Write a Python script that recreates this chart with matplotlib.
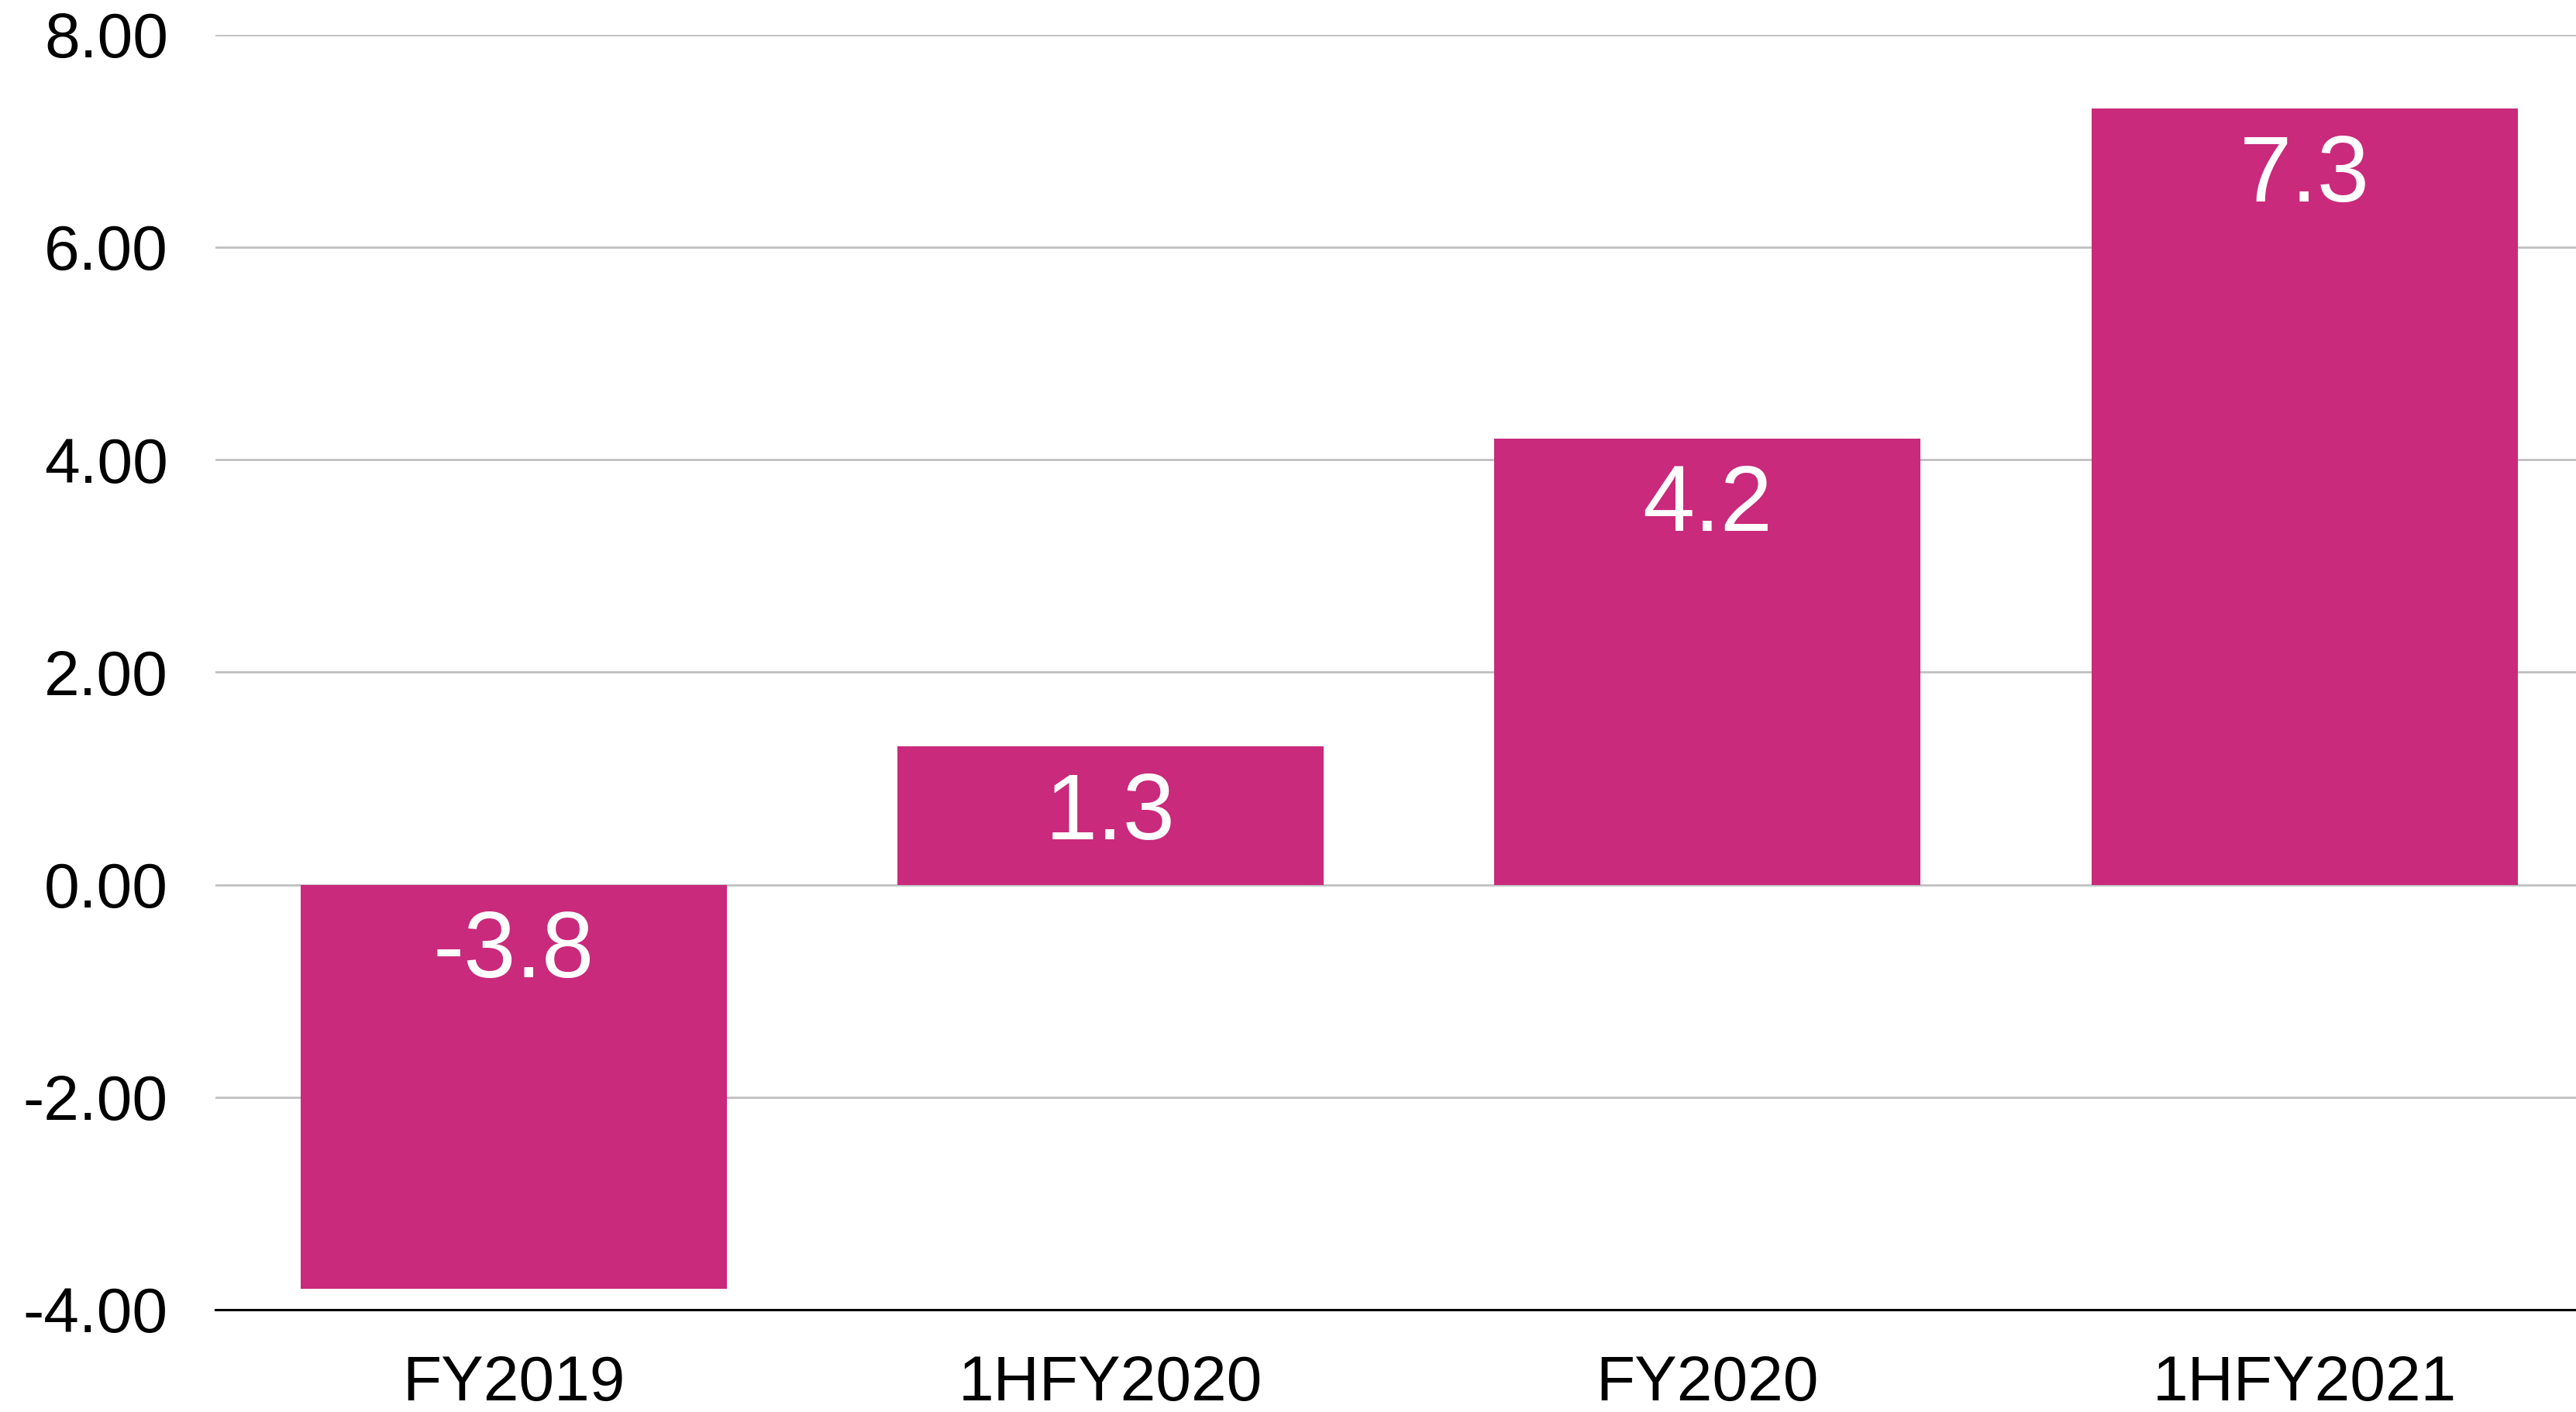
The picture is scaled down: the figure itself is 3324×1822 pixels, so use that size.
import matplotlib
matplotlib.use("Agg")
import matplotlib.pyplot as plt

# データ
periods = ["FY2019", "1HFY2020", "FY2020", "1HFY2021"]
values = [-3.8, 1.3, 4.2, 7.3]
yticks = [-4, -2, 0, 2, 4, 6, 8]

bar_color = "#C92A7B"

plt.rcParams["font.family"] = ["Liberation Sans", "DejaVu Sans"]

fig = plt.figure(figsize=(16.62, 9.11), dpi=200)
ax = fig.add_axes([278 / 3324, 1 - 1690 / 1822, 1 - 278 / 3324, (1690 - 44.5) / 1822])

x = list(range(len(periods)))
bars = ax.bar(x, values, width=0.714, color=bar_color, zorder=3)

# 値ラベル（棒の上端の内側）
for xi, v in zip(x, values):
    ax.annotate(f"{v:.1f}", xy=(xi, max(v, 0)), xytext=(0, -32),
                textcoords="offset points", ha="center", va="center",
                color="white", fontsize=43.5, zorder=4)

ax.set_ylim(-4, 8)
ax.set_xlim(-0.5, 3.455)
ax.set_yticks(yticks)
ax.set_yticklabels([f"{t:.2f}" for t in yticks])
ax.set_xticks(x)
ax.set_xticklabels(periods)

ax.tick_params(axis="both", length=0, labelsize=29.5)
ax.tick_params(axis="y", pad=22)
ax.tick_params(axis="x", pad=21)

ax.yaxis.grid(True, color="#c0c0c0", linewidth=1.0, zorder=0)
ax.set_axisbelow(True)
for side in ["top", "right", "left"]:
    ax.spines[side].set_visible(False)
ax.spines["bottom"].set_color("black")
ax.spines["bottom"].set_linewidth(1.1)
ax.spines["bottom"].set_zorder(5)

plt.savefig("out.png", dpi=200)
